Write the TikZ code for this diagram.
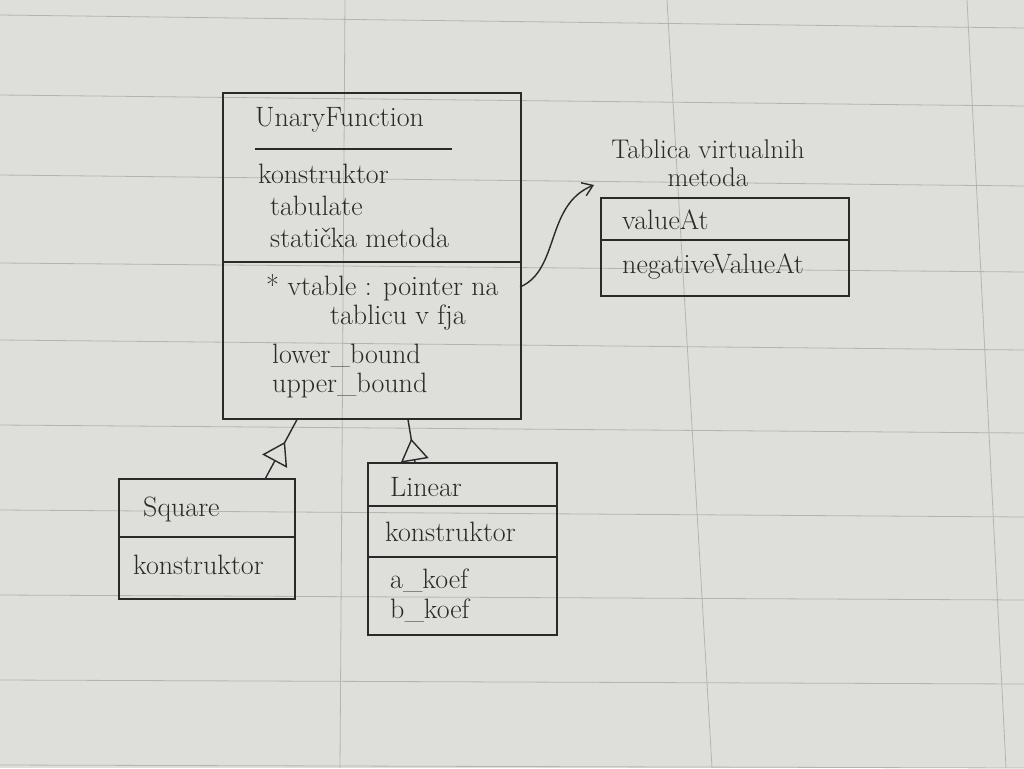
\documentclass[tikz,border=0pt]{standalone}
\usetikzlibrary{arrows.meta,decorations.markings}
\definecolor{paper}{HTML}{DEDEDA}
\definecolor{gridc}{HTML}{B4B4B0}
\definecolor{ink}{HTML}{2B2A28}
\tikzset{
  umlbox/.style={draw=ink, line width=1.6pt, anchor=north west, inner sep=0pt},
  divider/.style={draw=ink, line width=1.5pt},
  lbl/.style={anchor=west, inner sep=0pt, text=ink, font=\fontsize{28}{31}\selectfont},
  gridline/.style={draw=gridc, line width=0.8pt},
  inherit/.style={draw=ink, line width=1.4pt, postaction={decorate},
    decoration={markings, mark=at position #1 with {\arrow{Triangle[open, fill=paper, width=28pt, length=22pt, line width=1.4pt]}}}},
  pointer/.style={draw=ink, line width=1.4pt, -{Straight Barb[length=10pt, width=14pt, line width=1.4pt]}}
}
\begin{document}
\begin{tikzpicture}[x=1pt, y=-1pt]
  \useasboundingbox (0,0) rectangle (1024,768);
  \fill[paper] (0,0) rectangle (1024,768);
  % paper grid
  \foreach \yl/\yr in {15/28, 95/106, 175/186, 263/272, 340/350, 425/433, 510/517, 595/600, 680/684, 765/768}
    \draw[gridline] (0,\yl) -- (1024,\yr);
  \draw[gridline] (345,0) -- (340,768);
  \draw[gridline] (667,0) -- (712,768);
  \draw[gridline] (967,0) -- (1006,768);

  % UnaryFunction
  \node[umlbox, minimum width=298pt, minimum height=326pt] (uf) at (222,92) {};
  \node[lbl] (ufname) at (255,120) {UnaryFunction};
  \coordinate (ufd1a) at (255,149); \coordinate (ufd1b) at (452,149);
  \draw[divider] (ufd1a) -- (ufd1b);
  \node[lbl] (ufm1) at (258,174) {konstruktor};
  \node[lbl] (ufm2) at (270,206) {tabulate};
  \node[lbl] (ufm3) at (270,238) {statička metoda};
  \draw[divider] (uf.west |- 0,262) -- (uf.east |- 0,262);
  \node[lbl] (ufa1) at (266,288) {* vtable : pointer na};
  \node[lbl] (ufa2) at (330,318) {tablicu v fja};
  \node[lbl] (ufa3) at (272,356) {lower\_bound};
  \node[lbl] (ufa4) at (272,386) {upper\_bound};

  % Tablica virtualnih metoda
  \node[anchor=center, align=center, inner sep=0pt, text=ink, font=\fontsize{27}{28}\selectfont] (tabtitle) at (708,163) {Tablica virtualnih\\metoda};
  \node[umlbox, minimum width=248pt, minimum height=98pt] (tab) at (600,197) {};
  \node[lbl] (tab1) at (622,220) {valueAt};
  \draw[divider] (tab.west |- 0,240) -- (tab.east |- 0,240);
  \node[lbl] (tab2) at (622,266) {negativeValueAt};

  % Square
  \node[umlbox, minimum width=176pt, minimum height=120pt] (sq) at (118,478) {};
  \node[lbl] (sqname) at (143,509) {Square};
  \draw[divider] (sq.west |- 0,537) -- (sq.east |- 0,537);
  \node[lbl] (sqm1) at (133,565) {konstruktor};

  % Linear
  \node[umlbox, minimum width=189pt, minimum height=172pt] (lin) at (367,462) {};
  \node[lbl] (linname) at (390,487) {Linear};
  \draw[divider] (lin.west |- 0,506) -- (lin.east |- 0,506);
  \node[lbl] (linm1) at (385,532) {konstruktor};
  \draw[divider] (lin.west |- 0,557) -- (lin.east |- 0,557);
  \node[lbl] (lina1) at (390,581) {a\_koef};
  \node[lbl] (lina2) at (390,611) {b\_koef};

  % inheritance
  \draw[inherit=0.62] ([xshift=-30pt]sq.north east) -- ([xshift=75pt]uf.south west);
  \draw[inherit=0.55] ([xshift=48pt]lin.north west) -- ([xshift=186pt]uf.south west);

  % vtable pointer
  \coordinate (pstart) at (520,287);
  \draw[pointer] (pstart) .. controls (560,270) and (545,205) .. ([xshift=-6pt,yshift=12pt]tab.north west);
\end{tikzpicture}
\end{document}
